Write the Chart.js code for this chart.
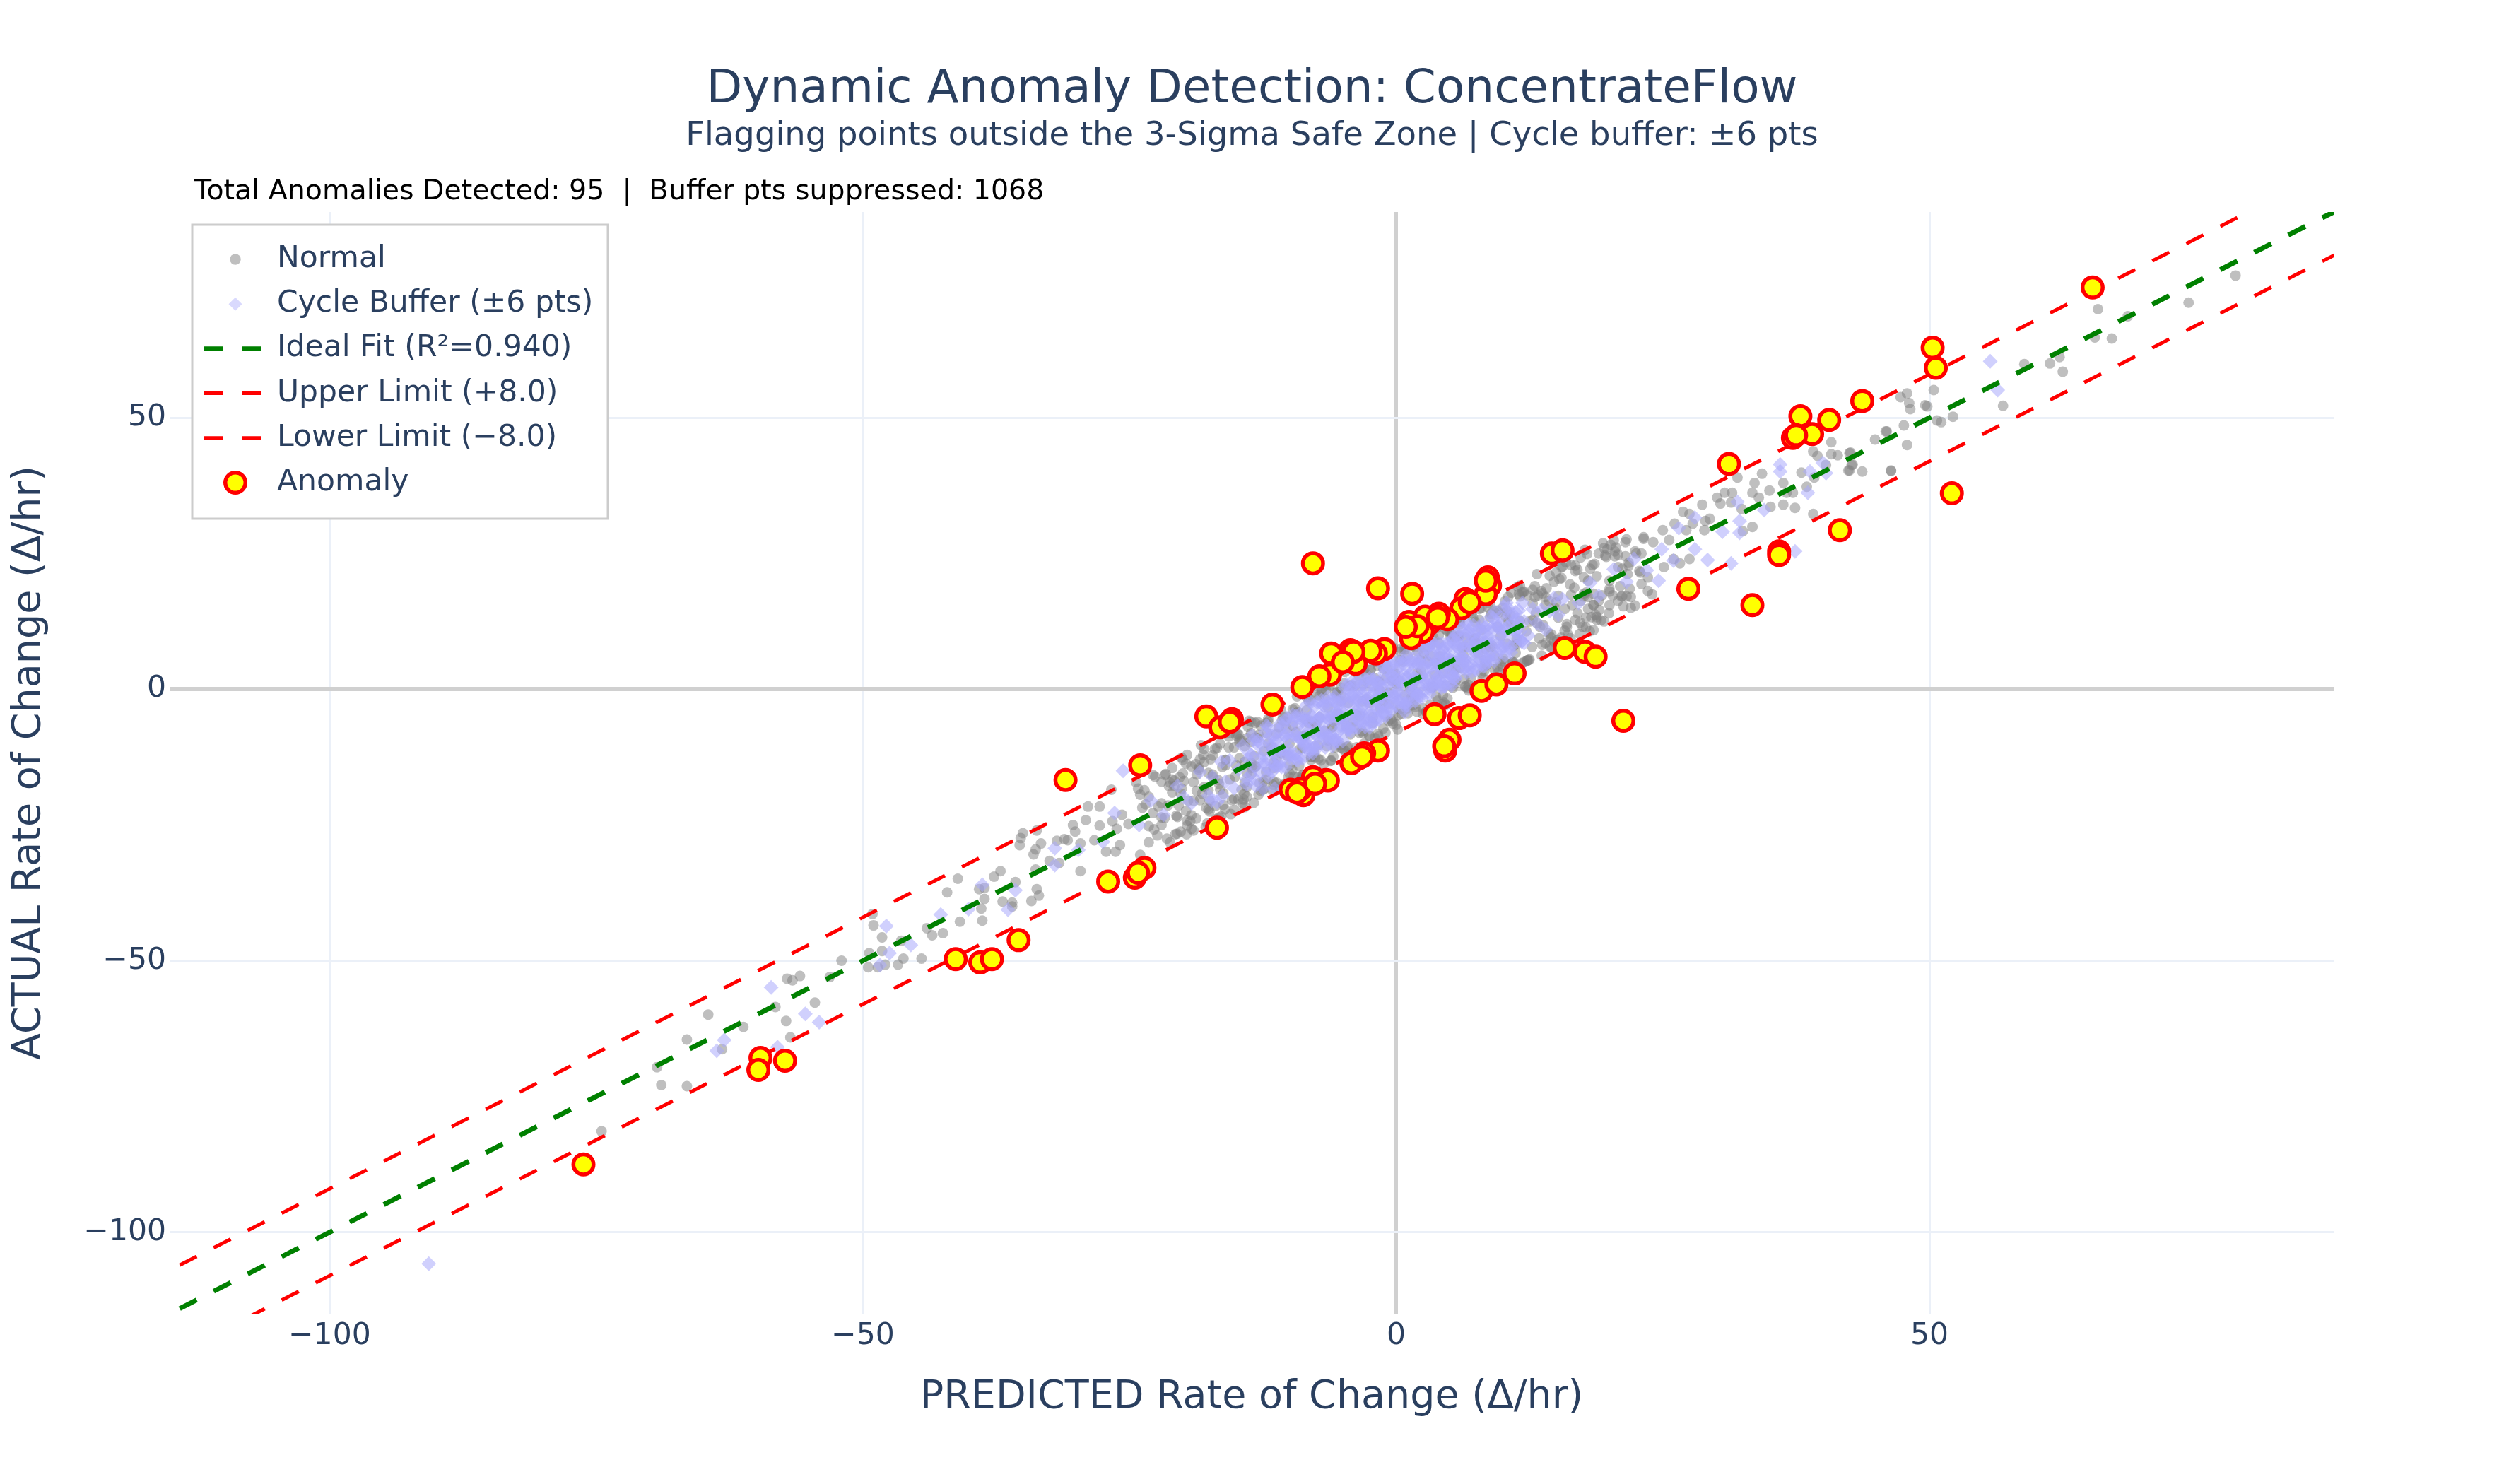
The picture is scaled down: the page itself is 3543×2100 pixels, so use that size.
<!DOCTYPE html>
<html>
<head>
<meta charset="utf-8">
<title>Dynamic Anomaly Detection: ConcentrateFlow</title>
<script src="https://cdn.jsdelivr.net/npm/chart.js@4.4.1/dist/chart.umd.min.js"></script>
<style>
  html, body { margin: 0; padding: 0; background: #ffffff; }
  #wrap { width: 3543px; height: 2100px; }
</style>
</head>
<body>
<div id="wrap"><canvas id="anomalyChart"></canvas></div>
<script>
// axis setup
const xTicks = [-100, -50, 0, 50];
const yTicks = [-100, -50, 0, 50];
const axisMin = -115;
const axisMax = 87.9;

const titleText = 'Dynamic Anomaly Detection: ConcentrateFlow';
const subtitleText = 'Flagging points outside the 3-Sigma Safe Zone | Cycle buffer: \u00b16 pts';
const noteText = 'Total Anomalies Detected: 95  |  Buffer pts suppressed: 1068';
const xTitle = 'PREDICTED Rate of Change (\u0394/hr)';
const yTitle = 'ACTUAL Rate of Change (\u0394/hr)';

// reference lines (predicted, actual)
const idealLine = [[-130, -130], [100, 100]];
const upperLine = [[-130, -122], [100, 108]];
const lowerLine = [[-130, -138], [100, 92]];

// normal points [predicted, actual]
const normalPoints = [
  [-74.5,-81.4],[-68.9,-72.9],[-66.5,-73.1],[-69.3,-69.6],[-66.5,-64.5],[-64.5,-59.9],[-63.2,-66.3],[-61.2,-62.2],
  [-58.2,-58.5],[-57.2,-61.1],[-56.8,-64.1],[-57.1,-53.3],[-56.6,-53.6],[-55.9,-52.8],[-54.5,-57.7],[-53.1,-53.0],
  [-52.0,-50.0],[-49.0,-43.5],[-49.5,-51.2],[-48.6,-51.2],[-48.2,-48.2],
  [-49.1,-41.4],[-48.2,-45.7],[-49.4,-48.6],[-47.9,-50.7],[-46.7,-50.7],[-46.2,-49.6],[-46.4,-46.3],[-44.5,-49.6],
  [-44.0,-44.0],[-43.5,-45.3],[-42.5,-44.9],[-42.1,-37.4],[-41.1,-34.9],[-40.9,-42.8],[-38.8,-42.6],[-38.9,-40.4],
  [-38.6,-38.6],[-39.1,-36.8],[-38.6,-36.6],[-37.7,-34.5],[-37.1,-33.5],[-36.9,-39.1],[-36.0,-39.3],[-36.0,-40.0],
  [-35.7,-35.5],[-35.3,-28.7],[-35.2,-27.4],[-35.0,-26.5],[-33.7,-26.0],[-33.8,-29.5],[-34.0,-30.4],[-33.8,-33.2],
  [-33.7,-36.8],[-33.5,-38.0],[-34.2,-39.0],[-33.3,-28.4],[-31.8,-27.9],[-31.6,-32.0],[-32.5,-31.6],[-31.1,-27.6],
  [-30.8,-27.8],[-30.1,-26.2],[-30.3,-25.0],[-29.6,-28.4],[-29.6,-33.5],[-29.1,-24.1],[-28.9,-21.6],[-27.8,-21.6],
  [-27.8,-25.1],[-28.3,-27.8],[-27.2,-29.9],[-26.7,-18.5],[-26.6,-24.3],[-25.9,-28.7],[-26.3,-29.9],[-26.2,-25.7],
  [-25.7,-23.1],[-25.1,-24.8],[-24.4,-17.1],[-24.2,-18.3],[-24.0,-19.4],[-23.5,-21.2],[-23.2,-19.8],[-22.8,-22.8],
  [-22.7,-25.8],[-22.3,-21.6],[-22.0,-23.6],[-21.7,-15.8],[-21.3,-17.8],[-21.0,-16.6],[-20.3,-16.2],[-20.1,-18.3],
  [-19.7,-22.4],[-19.6,-24.2],[-20.6,-23.3],[-19.0,-17.1],[-18.5,-14.8],[-18.0,-13.4],[-17.6,-15.4],[-17.6,-18.6],
  [-16.6,-17.4],[-16.2,-21.3],[-14.9,-8.2],[-14.7,-9.2],[-13.6,-6.0],[-13.2,-8.9],[-14.2,-10.5],[-14.2,-13.4],
  [-14.0,-15.4],[-13.2,-14.2],[-12.2,-16.6],[-14.0,-19.8],
  [-22.0,-17.0],[-21.5,-27.5],[-21.0,-19.0],[-20.5,-23.5],[-20.0,-13.0],[-19.5,-20.5],[-19.0,-26.0],[-18.5,-14.5],
  [-18.0,-18.0],[-17.5,-22.5],[-17.0,-11.0],[-16.5,-18.5],[-16.0,-13.0],[-15.5,-23.0],[-15.0,-14.0],[-14.5,-9.5],
  [-14.0,-18.0],[-13.5,-14.5],[-13.0,-6.0],[-12.5,-18.5],[-12.0,-10.0],[-11.5,-14.5],[-11.0,-7.0],[-10.5,-17.5],
  [-10.0,-10.0],[-9.5,-3.5],[-9.0,-11.0],[-8.5,-5.5],[-8.0,-13.0],[-7.5,-6.5],[-7.0,0.0],[-6.5,-10.5],
  [-6.0,-7.0],[-5.5,-0.5],[-5.0,-11.0],[-4.5,-2.5],[-4.0,-7.0],[-3.5,2.5],[-3.0,-10.0],[-2.5,-2.5],
  [-2.0,2.0],[-1.5,-3.5],[-1.0,2.0],[-0.5,-5.5],[0.0,1.0],[0.5,7.5],[1.0,-3.0],[1.5,0.5],
  [2.0,7.0],[2.5,-3.5],[3.0,5.0],[3.5,0.5],[4.0,10.0],[4.5,-2.5],[5.0,5.0],[5.5,9.5],
  [6.0,4.0],[6.5,9.5],[7.0,2.0],[7.5,8.5],[8.0,15.0],[8.5,4.5],[9.0,8.0],[9.5,14.5],
  [10.0,4.0],[10.5,12.5],[11.0,8.0],[11.5,17.5],[12.0,5.0],[12.5,12.5],[13.0,17.0],[13.5,11.5],
  [14.0,17.0],[14.5,9.5],[15.0,16.0],[15.5,22.5],[16.0,12.0],[16.5,15.5],[17.0,22.0],[17.5,11.5],
  [18.0,20.0],[18.5,15.5],[19.0,25.0],[19.5,12.5],[20.0,20.0],[20.5,24.5],[21.0,19.0],[21.5,24.5],[22.0,17.0],
  [-21.7,-23.7],[-21.2,-17.2],[-20.7,-26.7],[-20.2,-19.2],[-19.7,-13.7],[-19.2,-23.2],[-18.7,-15.7],[-18.2,-19.2],
  [-17.7,-24.7],[-17.2,-12.2],[-16.7,-16.7],[-16.2,-19.2],[-15.7,-8.7],[-15.2,-20.2],[-14.7,-12.7],[-14.2,-21.7],
  [-13.7,-9.7],[-13.2,-14.2],[-12.7,-6.7],[-12.2,-15.2],[-11.7,-10.7],[-11.2,-17.2],[-10.7,-5.7],[-10.2,-12.2],
  [-9.7,-6.7],[-9.2,-16.2],[-8.7,-8.7],[-8.2,-2.2],[-7.7,-11.7],[-7.2,-5.2],[-6.7,-7.7],[-6.2,0.8],
  [-5.7,-10.7],[-5.2,-2.2],[-4.7,-6.7],[-4.2,0.8],[-3.7,-10.7],[-3.2,-2.2],[-2.7,1.3],[-2.2,-5.2],
  [-1.7,4.3],[-1.2,-7.2],[-0.7,-0.7],[-0.2,1.8],[0.3,-3.7],[0.8,7.8],[1.3,0.3],[1.8,-3.2],
  [2.3,5.3],[2.8,7.8],[3.3,0.3],[3.8,4.8],[4.3,-2.7],[4.8,10.8],[5.3,3.3],[5.8,9.8],
  [6.3,6.3],[6.8,0.8],[7.3,9.3],[7.8,14.8],[8.3,4.3],[8.8,7.8],[9.3,14.3],[9.8,4.8],
  [10.3,13.3],[10.8,11.8],[11.3,8.3],[11.8,17.8],[12.3,5.3],[12.8,12.8],[13.3,17.3],[13.8,11.8],
  [14.3,16.3],[14.8,8.8],[15.3,20.3],[15.8,14.8],[16.3,19.3],[16.8,12.8],[17.3,24.3],[17.8,17.8],
  [18.3,13.3],[18.8,20.8],[19.3,17.3],[19.8,25.8],[20.3,17.3],[20.8,24.8],[21.3,15.3],[21.8,22.8],
  [-19.9,-16.9],[-19.3,-24.3],[-18.7,-18.7],[-18.1,-12.1],[-17.5,-20.5],[-16.9,-23.9],[-16.3,-14.3],[-15.7,-10.7],
  [-15.1,-16.1],[-14.5,-18.5],[-13.9,-6.9],[-13.3,-12.3],[-12.7,-18.7],[-12.1,-8.1],[-11.5,-13.5],[-10.9,-18.4],
  [-10.3,-7.3],[-9.7,-3.7],[-9.1,-14.1],[-8.5,-8.5],[-7.9,-5.9],[-7.3,-10.3],[-6.7,-1.7],[-6.1,-13.1],
  [-5.5,-4.5],[-4.9,1.1],[-4.3,-8.3],[-3.7,-4.7],[-3.1,0.9],[-2.5,-8.5],[-1.9,5.1],[-1.3,-1.3],
  [-0.7,-2.7],[-0.1,2.9],[0.5,-4.5],[1.1,6.1],[1.7,-1.3],[2.3,3.3],[2.9,-4.1],[3.5,9.5],
  [4.1,6.1],[4.7,0.7],[5.3,5.3],[5.9,9.9],[6.5,0.5],[7.1,14.1],[7.7,6.7],[8.3,5.3],
  [8.9,13.9],[9.5,11.5],[10.1,5.1],[10.7,13.7],[11.3,9.3],[11.9,17.9],[12.5,5.5],[13.1,14.1],
  [13.7,17.7],[14.3,10.3],[14.9,14.9],[15.5,20.5],[16.1,10.1],[16.7,18.7],[17.3,16.3],[17.9,24.9],[18.5,15.5],
  [-15.0,-8.5],[-14.3,-20.3],[-13.6,-8.1],[-12.9,-19.4],[-12.2,-6.2],[-11.5,-17.0],[-10.8,-3.8],[-10.1,-16.1],
  [-9.4,-4.4],[-8.7,-15.7],[-8.0,-2.0],[-7.3,-12.8],[-6.6,-0.1],[-5.9,-12.4],[-5.2,0.3],[-4.5,-10.5],
  [-3.8,3.2],[-3.1,-8.1],[-2.4,3.6],[-1.7,-8.2],[-1.0,4.5],[-0.3,-6.3],[0.4,6.9],[1.1,-4.4],
  [1.8,7.8],[2.5,-4.5],[3.2,8.7],[3.9,-2.1],[4.6,11.1],[5.3,0.3],[6.0,12.0],[6.7,0.2],
  [7.4,12.4],[8.1,2.1],[8.8,15.8],[9.5,4.0],[10.2,16.2],[10.9,4.9],[11.6,17.1],[12.3,5.3],
  [13.0,19.0],[13.7,8.2],[14.4,20.9],[15.1,9.1],
  [-24.0,-30.5],[-23.6,-18.6],[-23.2,-25.2],[-22.8,-15.8],[-22.4,-26.9],[-22.0,-21.0],[-21.6,-15.6],[-21.2,-28.2],
  [-20.8,-17.8],[-20.4,-21.4],[-20.0,-15.5],[-19.6,-25.1],[-19.2,-25.7],[-18.8,-13.8],[-18.4,-20.4],[-18.0,-11.0],
  [-17.6,-22.1],[-17.2,-16.2],[-16.8,-10.8],[-16.4,-23.4],[-16.0,-13.0],[-15.6,-16.6],[-15.2,-10.7],[-14.8,-20.3],
  [-14.4,-20.9],[-14.0,-9.0],[-13.6,-15.6],[-13.2,-6.2],[-12.8,-17.3],[-12.4,-11.4],[-12.0,-6.0],[-11.6,-18.6],
  [-11.2,-8.2],[-10.8,-11.8],[-10.4,-5.9],[-10.0,-15.5],[-9.6,-16.1],[-9.2,-4.2],[-8.8,-10.8],[-8.4,-1.4],
  [-8.0,-12.5],[-7.6,-6.6],[-7.2,-1.2],[-6.8,-13.8],[-6.4,-3.4],[-6.0,-7.0],[-5.6,-1.1],[-5.2,-10.7],
  [-4.8,-11.3],[-4.4,0.6],[-4.0,-6.0],[-3.6,3.4],[-3.2,-7.7],[-2.8,-1.8],[-2.4,3.6],[-2.0,-9.0],
  [-1.6,1.4],[-1.2,-2.2],[-0.8,3.7],[-0.4,-5.9],[0.0,-6.5],[0.4,5.4],[0.8,-1.2],[1.2,8.2],
  [1.6,-2.9],[2.0,3.0],[2.4,8.4],[2.8,-4.2],[3.2,6.2],[3.6,2.6],[4.0,8.5],[4.4,-1.1],
  [4.8,-1.7],[5.2,10.2],[5.6,3.6],[6.0,13.0],[6.4,1.9],[6.8,7.8],[7.2,13.2],[7.6,0.6],
  [8.0,11.0],[8.4,7.4],[8.8,13.3],[9.2,3.7],[9.6,3.1],[10.0,15.0],[10.4,8.4],[10.8,17.8],
  [11.2,6.7],[11.6,12.6],[12.0,18.0],[12.4,5.4],[12.8,15.8],[13.2,12.2],[13.6,18.1],[14.0,8.5],
  [14.4,7.9],[14.8,19.8],[15.2,13.2],[15.6,22.6],[16.0,11.5],[16.4,17.4],[16.8,22.8],[17.2,10.2],
  [17.6,20.6],[18.0,17.0],[18.4,22.9],[18.8,13.3],[19.2,12.7],[19.6,24.6],[20.0,18.0],[20.4,27.4],
  [20.8,16.3],[21.2,22.2],[21.6,27.6],[22.0,15.0],[22.4,25.4],[22.8,21.8],[23.2,27.7],[23.6,18.1],[24.0,17.5],
  [-23.8,-21.8],[-23.2,-28.2],[-22.6,-16.1],[-22.0,-25.0],[-21.4,-21.4],[-20.8,-16.8],[-20.2,-26.2],[-19.6,-12.1],
  [-19.0,-20.5],[-18.4,-12.9],[-17.8,-21.8],[-17.2,-15.7],[-16.6,-23.6],[-16.0,-14.0],[-15.4,-20.4],[-14.8,-8.3],
  [-14.2,-17.2],[-13.6,-13.6],[-13.0,-9.0],[-12.4,-18.4],[-11.8,-4.3],[-11.2,-12.7],[-10.6,-5.1],[-10.0,-14.0],
  [-9.4,-7.9],[-8.8,-15.8],[-8.2,-6.2],[-7.6,-12.6],[-7.0,-0.5],[-6.4,-9.4],[-5.8,-5.8],[-5.2,-1.2],
  [-4.6,-10.6],[-4.0,3.5],[-3.4,-4.9],[-2.8,2.7],[-2.2,-6.2],[-1.6,-0.1],[-1.0,-8.0],[-0.4,1.6],
  [0.2,-4.8],[0.8,7.3],[1.4,-1.6],[2.0,2.0],[2.6,6.6],[3.2,-2.8],[3.8,11.3],[4.4,2.9],
  [5.0,10.5],[5.6,1.6],[6.2,7.7],[6.8,-0.2],[7.4,9.4],[8.0,3.0],[8.6,15.1],[9.2,6.2],
  [9.8,9.8],[10.4,14.4],[11.0,5.0],[11.6,19.1],[12.2,10.7],[12.8,18.3],[13.4,9.4],[14.0,15.5],
  [14.6,7.6],[15.2,17.2],[15.8,10.8],[16.4,22.9],[17.0,14.0],[17.6,17.6],[18.2,22.2],[18.8,12.8],
  [19.4,26.9],[20.0,18.5],[20.6,26.1],[21.2,17.2],[21.8,23.3],[22.4,15.4],[23.0,25.0],
  [-21.0,-14.5],[-20.55,-26.6],[-20.1,-12.6],[-19.65,-26.7],[-19.2,-14.2],[-18.75,-23.8],[-18.3,-10.3],[-17.85,-25.4],
  [-17.4,-12.9],[-16.95,-21.5],[-16.5,-10.0],[-16.05,-22.1],[-15.6,-8.1],[-15.15,-22.2],[-14.7,-9.7],[-14.25,-19.3],
  [-13.8,-5.8],[-13.35,-20.9],[-12.9,-8.4],[-12.45,-17.0],[-12.0,-5.5],[-11.55,-17.6],[-11.1,-3.6],[-10.65,-17.7],
  [-10.2,-5.2],[-9.75,-14.8],[-9.3,-1.3],[-8.85,-16.4],[-8.4,-3.9],[-7.95,-12.5],[-7.5,-1.0],[-7.05,-13.1],
  [-6.6,0.9],[-6.15,-13.2],[-5.7,-0.7],[-5.25,-10.3],[-4.8,3.2],[-4.35,-11.9],[-3.9,0.6],[-3.45,-8.0],
  [-3.0,3.5],[-2.55,-8.6],[-2.1,5.4],[-1.65,-8.7],[-1.2,3.8],[-0.75,-5.8],[-0.3,7.7],[0.15,-7.4],
  [0.6,5.1],[1.05,-3.5],[1.5,8.0],[1.95,-4.1],[2.4,9.9],[2.85,-4.2],[3.3,8.3],[3.75,-1.3],
  [4.2,12.2],[4.65,-2.9],[5.1,9.6],[5.55,1.1],[6.0,12.5],[6.45,0.5],[6.9,14.4],[7.35,0.4],
  [7.8,12.8],[8.25,3.3],[8.7,16.7],[9.15,1.7],[9.6,14.1],[10.05,5.6],[10.5,17.0],[10.95,5.0],
  [11.4,18.9],[11.85,4.9],[12.3,17.3],[12.75,7.8],[13.2,21.2],[13.65,6.2],[14.1,18.6],[14.55,10.1],
  [15.0,21.5],[15.45,9.5],[15.9,23.4],[16.35,9.4],[16.8,21.8],[17.25,12.3],[17.7,25.7],[18.15,10.7],
  [18.6,23.1],[19.05,14.6],[19.5,26.0],[19.95,14.0],
  [45.9,47.5],[44.9,46.0],[46.4,40.2],[43.7,40.1],[42.6,43.6],[42.8,41.4],[42.4,40.3],[41.4,43.1],
  [40.8,45.5],[40.3,41.3],[39.1,43.8],[39.5,43.0],[39.2,39.0],[38.0,39.9],[38.5,37.3],[39.1,32.3],
  [37.4,33.4],[37.2,36.2],[36.3,34.0],[36.3,38.0],[36.6,36.2],[35.0,36.6],[34.3,39.7],[33.6,38.0],
  [33.4,36.2],[34.0,35.3],[35.1,33.6],[32.0,39.0],[31.5,36.2],[30.8,36.2],[30.1,35.3],[31.4,34.4],
  [30.4,34.2],[28.7,34.0],[32.4,33.2],[33.4,29.9],[32.5,29.1],[29.4,31.4],[29.0,31.0],[28.9,29.3],
  [27.8,30.5],[26.9,32.7],[27.5,32.3],[27.2,29.3],[26.1,30.5],[25.0,29.3],[25.6,27.5],[27.5,24.0],
  [26.6,23.2],[26.0,24.0],[25.1,22.5],[24.1,27.1],[23.2,28.0],[22.5,25.0],[21.5,27.1],[20.5,25.4],
  [20.1,26.6],[19.7,24.4],[20.8,22.5],[21.7,21.2],[22.9,21.5],[23.6,20.6],[23.0,19.4],[21.9,18.5],
  [21.1,17.1],[20.0,15.5],[21.6,17.1],[19.0,16.3],[18.5,17.6],[17.6,17.1],[18.0,14.8],[17.8,13.2],
  [18.7,13.7],[17.8,11.4],[18.5,10.9],
  [78.7,76.2],[74.3,71.2],[68.6,68.7],[65.8,70.0],[65.5,64.8],[67.1,64.6],[62.2,61.2],[62.5,58.5],
  [61.3,60.0],[58.9,59.9],[56.9,52.2],[52.2,50.2],[51.1,49.2],[50.7,49.5],[50.4,55.1],[47.9,54.5],
  [47.3,53.8],[48.1,52.7],[48.2,51.6],[49.8,52.1],[49.6,52.3],[47.6,48.6],[46.0,47.5],[47.9,45.0],
  [42.5,43.5],[40.8,43.3],[42.7,41.3],[42.5,40.3],[46.4,40.3]
];

// cycle buffer points [predicted, actual]
const bufferPoints = [
  [-90.7,-105.8],[-63.7,-66.6],[-63.0,-64.6],[-58.6,-54.9],[-58.0,-65.9],[-55.4,-59.8],[-54.1,-61.3],[-48.4,-50.8],
  [-47.8,-43.6],[-47.5,-48.6],[-45.5,-47.1],[-42.7,-41.5],[-40.1,-40.5],[-38.8,-36.0],[-36.4,-40.6],[-35.7,-37.0],
  [-32.0,-29.3],[-32.0,-32.4],[-29.8,-29.6],[-25.6,-15.0],[-19.9,-19.9],[-17.3,-20.5],[-16.3,-19.7],[-12.5,-18.3],
  [-11.4,-18.3],[-18.4,-15.2],[-19.2,-21.0],[-20.5,-17.8],[-21.8,-23.1],[-23.0,-20.5],[-24.1,-25.0],[-26.4,-22.8],
  [-27.5,-28.1],
  [-17.6,-19.6],[-17.2,-16.2],[-16.8,-20.8],[-16.4,-13.4],[-16.0,-17.0],[-15.6,-13.1],[-15.2,-18.2],[-14.8,-14.8],
  [-14.4,-10.4],[-14.0,-16.5],[-13.6,-12.1],[-13.2,-17.7],[-12.8,-9.8],[-12.4,-13.4],[-12.0,-7.0],[-11.6,-15.1],
  [-11.2,-9.2],[-10.8,-11.3],[-10.4,-5.9],[-10.0,-12.0],[-9.6,-8.6],[-9.2,-13.2],[-8.8,-5.3],[-8.4,-9.9],
  [-8.0,-2.5],[-7.6,-10.6],[-7.2,-5.2],[-6.8,-6.3],[-6.4,-2.4],[-6.0,-10.5],[-5.6,-4.1],[-5.2,-7.2],
  [-4.8,0.2],[-4.4,-5.4],[-4.0,-1.0],[-3.6,-7.1],[-3.2,-3.2],[-2.8,1.7],[-2.4,-4.9],[-2.0,0.0],
  [-1.6,-5.6],[-1.2,4.3],[-0.8,-1.8],[-0.4,2.6],[0.0,-3.0],[0.4,1.4],[0.8,-4.2],[1.2,5.2],
  [1.6,-0.4],[2.0,4.5],[2.4,-1.6],[2.8,3.3],[3.2,8.2],[3.6,0.6],[4.0,5.5],[4.4,3.4],
  [4.8,8.3],[5.2,0.7],[5.6,5.6],[6.0,8.0],[6.4,3.9],[6.8,10.8],[7.2,5.7],[7.6,8.6],
  [8.0,4.5],[8.4,11.4],[8.8,8.3],[9.2,5.2],[9.6,11.6],[10.0,8.0],[10.4,11.4],[10.8,7.8],
  [11.2,14.2],[11.6,10.6],[12.0,12.5],[12.4,9.9],[12.8,14.8],[13.2,12.2],[13.6,14.6],[14.0,11.0],
  [14.4,14.4],[14.8,16.8],[15.2,13.7],[15.6,16.6],
  [-11.8,-10.8],[-11.4,-13.9],[-11.0,-7.5],[-10.6,-11.6],[-10.2,-8.2],[-9.8,-12.8],[-9.4,-4.9],[-9.0,-9.0],
  [-8.6,-10.6],[-8.2,-5.7],[-7.8,-11.8],[-7.4,-2.4],[-7.0,-8.0],[-6.6,-5.1],[-6.2,-9.2],[-5.8,-2.3],
  [-5.4,-5.4],[-5.0,-9.5],[-4.6,-2.6],[-4.2,1.3],[-3.8,-5.3],[-3.4,-0.4],[-3.0,-6.0],[-2.6,-1.6],
  [-2.2,1.8],[-1.8,-3.8],[-1.4,0.6],[-1.0,-5.0],[-0.6,3.9],[-0.2,-1.2],[0.2,2.7],[0.6,-1.9],
  [1.0,6.5],[1.4,1.4],[1.8,-2.2],[2.2,5.7],[2.6,1.6],[3.0,5.0],[3.4,0.4],[3.8,7.8],
  [4.2,2.2],[4.6,5.6],[5.0,1.0],[5.4,8.4],[5.8,4.8],[6.2,11.2],[6.6,3.1],[7.0,8.5],
  [7.4,5.4],[7.8,11.3],[8.2,4.2],[8.6,9.1],[9.0,11.5],[9.4,6.9],[9.8,10.8],[10.2,6.2],
  [10.6,13.6],[11.0,9.5],[11.4,12.4],[11.8,8.8],
  [-8.9,-9.4],[-8.5,-5.5],[-8.1,-11.6],[-7.7,-6.7],[-7.3,-8.8],[-6.9,-2.9],[-6.5,-8.5],[-6.1,-4.1],
  [-5.7,-9.7],[-5.3,-4.8],[-4.9,-1.4],[-4.5,-7.0],[-4.1,-3.1],[-3.7,1.3],[-3.3,-4.3],[-2.9,-0.4],
  [-2.5,-7.0],[-2.1,-2.1],[-1.7,1.3],[-1.3,-3.3],[-0.9,0.6],[-0.5,-4.0],[-0.1,4.9],[0.3,-0.7],
  [0.7,2.7],[1.1,-1.9],[1.5,5.0],[1.9,1.9],[2.3,0.3],[2.7,7.2],[3.1,-0.9],[3.5,4.5],
  [3.9,2.4],[4.3,7.3],[4.7,1.7],[5.1,7.1],[5.5,3.5],[5.9,9.9],[6.3,5.8],[6.7,8.2],
  [7.1,3.1],[7.5,10.5],[7.9,6.9],[8.3,10.3],[8.7,6.2],
  [-5.9,-4.9],[-5.5,-8.0],[-5.1,-2.1],[-4.7,-5.7],[-4.3,-0.3],[-3.9,-6.9],[-3.5,-1.5],[-3.1,-3.1],
  [-2.7,-4.7],[-2.3,1.2],[-1.9,-5.9],[-1.5,-0.5],[-1.1,2.9],[-0.7,-3.2],[-0.3,1.7],[0.1,-0.4],
  [0.5,5.0],[0.9,-2.6],[1.3,2.8],[1.7,0.2],[2.1,5.1],[2.5,-0.5],[2.9,3.9],[3.3,8.3],
  [3.7,1.7],[4.1,6.6],[4.5,0.5],[4.9,4.9],[5.3,9.3],[5.7,3.2],[6.1,7.1],[6.5,5.5],[6.9,9.9],
  [-14.0,-17.5],[-13.75,-11.8],[-13.5,-8.5],[-13.25,-14.3],[-13.0,-9.5],[-12.75,-15.3],[-12.5,-12.0],[-12.25,-7.8],
  [-12.0,-16.0],[-11.75,-10.3],[-11.5,-12.0],[-11.25,-8.3],[-11.0,-14.0],[-10.75,-14.3],[-10.5,-8.5],[-10.25,-5.3],
  [-10.0,-11.0],[-9.75,-6.3],[-9.5,-12.0],[-9.25,-8.8],[-9.0,-4.5],[-8.75,-12.8],[-8.5,-7.0],[-8.25,-8.8],
  [-8.0,-5.0],[-7.75,-10.8],[-7.5,-11.0],[-7.25,-5.3],[-7.0,-2.0],[-6.75,-7.8],[-6.5,-3.0],[-6.25,-8.8],
  [-6.0,-5.5],[-5.75,-1.3],[-5.5,-9.5],[-5.25,-3.8],[-5.0,-5.5],[-4.75,-1.8],[-4.5,-7.5],[-4.25,-7.8],
  [-4.0,-2.0],[-3.75,1.3],[-3.5,-4.5],[-3.25,0.3],[-3.0,-5.5],[-2.75,-2.3],[-2.5,2.0],[-2.25,-6.3],
  [-2.0,-0.5],[-1.75,-2.3],[-1.5,1.5],[-1.25,-4.3],[-1.0,-4.5],[-0.75,1.3],[-0.5,4.5],[-0.25,-1.3],
  [0.0,3.5],[0.25,-2.3],[0.5,1.0],[0.75,5.3],[1.0,-3.0],[1.25,2.8],[1.5,1.0],[1.75,4.8],
  [2.0,-1.0],[2.25,-1.3],[2.5,4.5],[2.75,7.8],[3.0,2.0],[3.25,6.8],[3.5,1.0],[3.75,4.3],
  [4.0,8.5],[4.25,0.3],[4.5,6.0],[4.75,4.3],[5.0,8.0],[5.25,2.3],[5.5,2.0],[5.75,7.8],
  [6.0,11.0],[6.25,5.3],[6.5,10.0],[6.75,4.3],[7.0,7.5],[7.25,11.8],[7.5,3.5],[7.75,9.3],
  [8.0,7.5],[8.25,11.3],[8.5,5.5],[8.75,5.3],[9.0,11.0],[9.25,14.3],[9.5,8.5],[9.75,13.3],
  [10.0,7.5],[10.25,10.8],[10.5,15.0],[10.75,6.8],[11.0,12.5],[11.25,10.8],[11.5,14.5],[11.75,8.8],[12.0,8.5],
  [-13.9,-12.9],[-13.65,-15.7],[-13.4,-9.4],[-13.15,-16.7],[-12.9,-10.4],[-12.65,-12.7],[-12.4,-13.9],[-12.15,-6.7],
  [-11.9,-14.9],[-11.65,-8.7],[-11.4,-11.9],[-11.15,-9.7],[-10.9,-13.4],[-10.65,-6.7],[-10.4,-14.4],[-10.15,-9.2],
  [-9.9,-11.9],[-9.65,-5.7],[-9.4,-12.9],[-9.15,-6.7],[-8.9,-8.9],[-8.65,-10.2],[-8.4,-2.9],[-8.15,-11.2],
  [-7.9,-4.9],[-7.65,-8.2],[-7.4,-5.9],[-7.15,-9.7],[-6.9,-2.9],[-6.65,-10.7],[-6.4,-5.4],[-6.15,-8.2],
  [-5.9,-1.9],[-5.65,-9.2],[-5.4,-2.9],[-5.15,-5.2],[-4.9,-6.4],[-4.65,0.9],[-4.4,-7.4],[-4.15,-1.2],
  [-3.9,-4.4],[-3.65,-2.2],[-3.4,-5.9],[-3.15,0.9],[-2.9,-6.9],[-2.65,-1.7],[-2.4,-4.4],[-2.15,1.9],
  [-1.9,-5.4],[-1.65,0.9],[-1.4,-1.4],[-1.15,-2.7],[-0.9,4.6],[-0.65,-3.7],[-0.4,2.6],[-0.15,-0.7],
  [0.1,1.6],[0.35,-2.2],[0.6,4.6],[0.85,-3.2],[1.1,2.1],[1.35,-0.7],[1.6,5.6],[1.85,-1.7],
  [2.1,4.6],[2.35,2.4],[2.6,1.1],[2.85,8.4],[3.1,0.1],[3.35,6.4],[3.6,3.1],[3.85,5.4],
  [4.1,1.6],[4.35,8.4],[4.6,0.6],[4.85,5.9],[5.1,3.1],[5.35,9.4],[5.6,2.1],[5.85,8.4],
  [6.1,6.1],[6.35,4.9],[6.6,12.1],[6.85,3.9],[7.1,10.1],[7.35,6.9],[7.6,9.1],[7.85,5.4],
  [8.1,12.1],[8.35,4.4],[8.6,9.6],[8.85,6.9],[9.1,13.1],[9.35,5.9],[9.6,12.1],[9.85,9.9],
  [10.1,8.6],[10.35,15.9],[10.6,7.6],[10.85,13.9],[11.1,10.6],[11.35,12.9],[11.6,9.1],[11.85,15.9],
  [-12.1,-9.1],[-11.8,-13.3],[-11.5,-11.0],[-11.2,-14.2],[-10.9,-6.4],[-10.6,-11.1],[-10.3,-8.3],[-10.0,-12.5],
  [-9.7,-4.7],[-9.4,-8.4],[-9.1,-12.6],[-8.8,-5.8],[-8.5,-10.0],[-8.2,-7.7],[-7.9,-10.9],[-7.6,-3.1],
  [-7.3,-7.8],[-7.0,-5.0],[-6.7,-9.2],[-6.4,-1.4],[-6.1,-5.1],[-5.8,-9.3],[-5.5,-2.5],[-5.2,-6.7],
  [-4.9,-4.4],[-4.6,-7.6],[-4.3,0.2],[-4.0,-4.5],[-3.7,-1.7],[-3.4,-5.9],[-3.1,1.9],[-2.8,-1.8],
  [-2.5,-6.0],[-2.2,0.8],[-1.9,-3.4],[-1.6,-1.1],[-1.3,-4.3],[-1.0,3.5],[-0.7,-1.2],[-0.4,1.6],
  [-0.1,-2.6],[0.2,5.2],[0.5,1.5],[0.8,-2.7],[1.1,4.1],[1.4,-0.1],[1.7,2.2],[2.0,-1.0],
  [2.3,6.8],[2.6,2.1],[2.9,4.9],[3.2,0.7],[3.5,8.5],[3.8,4.8],[4.1,0.6],[4.4,7.4],
  [4.7,3.2],[5.0,5.5],[5.3,2.3],[5.6,10.1],[5.9,5.4],[6.2,8.2],[6.5,4.0],[6.8,11.8],
  [7.1,8.1],[7.4,3.9],[7.7,10.7],[8.0,6.5],[8.3,8.8],[8.6,5.6],[8.9,13.4],[9.2,8.7],
  [9.5,11.5],[9.8,7.3],[10.1,15.1],[10.4,11.4],
  [17.1,15.9],[18.2,19.6],[19.0,17.2],[20.4,22.1],[21.6,19.8],[22.3,24.0],[23.5,21.9],[24.9,25.8],
  [26.0,23.7],[24.6,20.0],[26.5,29.7],[28.0,31.6],[28.0,25.8],[29.2,23.8],[31.4,23.2],[30.6,29.0],
  [32.2,28.8],[32.2,31.0],[32.0,34.5],[34.5,33.0],[36.0,41.4],[36.0,40.1],[37.4,25.4],[38.6,36.2],
  [38.8,40.1],[40.0,41.7],[40.3,39.8],[55.7,60.4],[56.4,55.1]
];

// flagged anomalies [predicted, actual]
const anomalyPoints = [
  [65.3,74.0],[50.3,62.9],[50.6,59.2],[43.7,53.1],[37.9,50.3],[40.6,49.6],[37.2,46.3],[39.0,47.0],
  [31.2,41.5],[52.1,36.1],[41.6,29.3],[35.9,25.4],[35.9,24.7],[33.4,15.5],[27.4,18.5],
  [14.6,25.0],[15.6,25.6],[-7.8,23.2],[-1.7,18.6],[1.5,17.6],[8.6,20.6],[8.8,19.1],[8.4,17.5],
  [6.5,16.6],[6.1,14.9],[4.8,12.9],[4.0,13.9],[3.1,12.1],[2.5,10.6],[1.2,12.4],[1.4,9.4],[2.7,13.4],
  [-1.1,7.4],[-1.9,6.6],[-4.3,7.2],[-3.8,4.7],[-6.1,6.6],[-6.2,2.7],[-7.2,2.4],[-8.8,0.4],
  [-11.6,-2.8],[-17.8,-5.0],[-15.4,-5.5],[-16.5,-7.0],[-24.0,-14.0],[-31.0,-16.7],[-16.8,-25.5],
  [-1.7,-11.3],[-3.0,-11.8],[-3.6,-12.8],[-4.2,-13.6],[-6.6,-16.7],[-7.8,-16.2],[-8.7,-19.5],
  [-9.9,-18.5],[-8.9,-18.3],[-23.6,-32.9],[-24.5,-34.7],[-27.0,-35.4],
  [3.6,-4.6],[5.0,-9.3],[4.6,-11.3],[5.9,-5.3],[6.9,-4.8],[8.0,-0.3],[9.4,0.9],[11.1,2.9],
  [15.8,7.6],[17.7,6.9],[18.7,6.0],[21.3,-5.8],
  [-35.4,-46.2],[-41.3,-49.7],[-39.0,-50.3],[-37.9,-49.7],[-59.6,-67.9],[-59.8,-70.1],[-57.3,-68.4],[-76.2,-87.5],
  [-2.4,7.1],[-3.2,-12.4],[8.4,20.0],[6.9,16.0],[-6.4,-16.8],[4.5,-10.5],[-7.6,-17.4],[2.0,11.6],
  [0.9,11.5],[-4.0,6.9],[-5.0,5.0],[37.5,46.8],[-24.2,-33.8],[-15.6,-6.0],[3.9,13.2],[-9.3,-19.0]
];

const toXY = pts => pts.map(p => ({ x: p[0], y: p[1] }));
const fmtTick = v => (v < 0 ? '\u2212' + Math.abs(v) : String(v));

const FONT = '"DejaVu Sans", Verdana, sans-serif';
const TEXT = '#2a3f5f';
const normalColor = 'rgba(128,128,128,0.5)';
const bufferColor = 'rgba(170,170,252,0.55)';

Chart.defaults.font.family = FONT;
Chart.defaults.color = TEXT;

const legendEntries = [
  { label: 'Normal', kind: 'circle', fill: normalColor, r: 7.75 },
  { label: 'Cycle Buffer (\u00b16 pts)', kind: 'diamond', fill: 'rgba(160,160,250,0.4)', r: 9.5 },
  { label: 'Ideal Fit (R\u00b2=0.940)', kind: 'line', stroke: '#008000', w: 6.5 },
  { label: 'Upper Limit (+8.0)', kind: 'line', stroke: '#ff0000', w: 5 },
  { label: 'Lower Limit (\u22128.0)', kind: 'line', stroke: '#ff0000', w: 5 },
  { label: 'Anomaly', kind: 'anomaly' }
];

// note text + boxed legend inside the plot, drawn on top
const overlayPlugin = {
  id: 'overlay',
  afterDraw(chart) {
    const ctx = chart.ctx;
    ctx.save();
    ctx.textAlign = 'left';
    ctx.textBaseline = 'middle';
    ctx.font = '39.5px ' + FONT;
    ctx.fillStyle = '#000000';
    ctx.fillText(noteText, 275, 272);

    // legend box
    ctx.fillStyle = '#ffffff';
    ctx.fillRect(272, 318, 588, 416);
    ctx.strokeStyle = '#cccccc';
    ctx.lineWidth = 3;
    ctx.strokeRect(272, 318, 588, 416);

    const sx = 333;
    legendEntries.forEach((e, i) => {
      const y = 367 + i * 63.2;
      if (e.kind === 'circle') {
        ctx.beginPath();
        ctx.arc(sx, y, e.r, 0, Math.PI * 2);
        ctx.fillStyle = e.fill;
        ctx.fill();
      } else if (e.kind === 'diamond') {
        ctx.beginPath();
        ctx.moveTo(sx, y - e.r);
        ctx.lineTo(sx + e.r, y);
        ctx.lineTo(sx, y + e.r);
        ctx.lineTo(sx - e.r, y);
        ctx.closePath();
        ctx.fillStyle = e.fill;
        ctx.fill();
      } else if (e.kind === 'line') {
        ctx.beginPath();
        ctx.setLineDash([27, 27]);
        ctx.strokeStyle = e.stroke;
        ctx.lineWidth = e.w;
        ctx.moveTo(288, y);
        ctx.lineTo(371, y);
        ctx.stroke();
        ctx.setLineDash([]);
      } else {
        ctx.beginPath();
        ctx.arc(sx, y, 14.25, 0, Math.PI * 2);
        ctx.fillStyle = '#ffff00';
        ctx.fill();
        ctx.lineWidth = 5.5;
        ctx.strokeStyle = '#ff0000';
        ctx.stroke();
      }
      ctx.font = '42.5px ' + FONT;
      ctx.fillStyle = TEXT;
      ctx.fillText(e.label, 392, y);
    });
    ctx.restore();
  }
};

const gridColor = c => (c.tick && c.tick.value === 0 ? '#d0d0d0' : '#ebf0f8');
const gridWidth = c => (c.tick && c.tick.value === 0 ? 6 : 3);

const ctx = document.getElementById('anomalyChart').getContext('2d');
const myChart = new Chart(ctx, {
  type: 'scatter',
  data: {
    datasets: [
      {
        label: 'Anomaly',
        data: toXY(anomalyPoints),
        pointStyle: 'circle',
        pointRadius: 14.25,
        pointBackgroundColor: '#ffff00',
        pointBorderColor: '#ff0000',
        pointBorderWidth: 5.5,
        order: 0
      },
      {
        label: 'Lower Limit (\u22128.0)',
        data: toXY(lowerLine),
        showLine: true,
        borderColor: '#ff0000',
        borderWidth: 5,
        borderDash: [27, 27],
        pointRadius: 0,
        order: 1
      },
      {
        label: 'Upper Limit (+8.0)',
        data: toXY(upperLine),
        showLine: true,
        borderColor: '#ff0000',
        borderWidth: 5,
        borderDash: [27, 27],
        pointRadius: 0,
        order: 2
      },
      {
        label: 'Ideal Fit (R\u00b2=0.940)',
        data: toXY(idealLine),
        showLine: true,
        borderColor: '#008000',
        borderWidth: 7,
        borderDash: [27, 27],
        pointRadius: 0,
        order: 3
      },
      {
        label: 'Cycle Buffer (\u00b16 pts)',
        data: toXY(bufferPoints),
        pointStyle: 'rectRot',
        pointRadius: 10.5,
        pointBackgroundColor: bufferColor,
        pointBorderWidth: 0,
        order: 4
      },
      {
        label: 'Normal',
        data: toXY(normalPoints),
        pointStyle: 'circle',
        pointRadius: 7.5,
        pointBackgroundColor: normalColor,
        pointBorderWidth: 0,
        order: 5
      }
    ]
  },
  options: {
    responsive: true,
    maintainAspectRatio: false,
    devicePixelRatio: 1,
    animation: false,
    events: [],
    layout: { padding: 0 },
    plugins: {
      legend: { display: false },
      tooltip: { enabled: false },
      title: {
        display: true,
        text: titleText,
        color: TEXT,
        font: { size: 66, weight: 'normal', lineHeight: 1.1 },
        padding: { top: 92, bottom: 0 }
      },
      subtitle: {
        display: true,
        text: subtitleText,
        color: TEXT,
        font: { size: 46.5, weight: 'normal', lineHeight: 1.2 },
        padding: { top: 0, bottom: 79.6 }
      }
    },
    scales: {
      x: {
        type: 'linear',
        position: 'bottom',
        min: axisMin,
        max: axisMax,
        afterBuildTicks: s => { s.ticks = xTicks.map(v => ({ value: v })); },
        afterFit: s => { s.height = 241; },
        ticks: { callback: fmtTick, padding: 6, font: { size: 42.5 }, color: TEXT, maxRotation: 0 },
        grid: { drawTicks: false, color: gridColor, lineWidth: gridWidth },
        border: { display: false },
        title: {
          display: true,
          text: xTitle,
          color: TEXT,
          font: { size: 55.5 },
          padding: { top: 0, bottom: 88.7 }
        }
      },
      y: {
        type: 'linear',
        position: 'left',
        min: axisMin,
        max: axisMax,
        afterBuildTicks: s => { s.ticks = yTicks.map(v => ({ value: v })); },
        afterFit: s => { s.width = 240; },
        ticks: { callback: fmtTick, padding: 5, font: { size: 42.5 }, color: TEXT },
        grid: { drawTicks: false, color: gridColor, lineWidth: gridWidth },
        border: { display: false },
        title: {
          display: true,
          text: yTitle,
          color: TEXT,
          font: { size: 55.5 },
          padding: { top: 8.7, bottom: 0 }
        }
      },
      yRight: {
        type: 'linear',
        position: 'right',
        min: 0,
        max: 1,
        afterFit: s => { s.width = 241; },
        ticks: { display: false },
        grid: { display: false, drawTicks: false },
        border: { display: false }
      }
    }
  },
  plugins: [overlayPlugin]
});
</script>
</body>
</html>
